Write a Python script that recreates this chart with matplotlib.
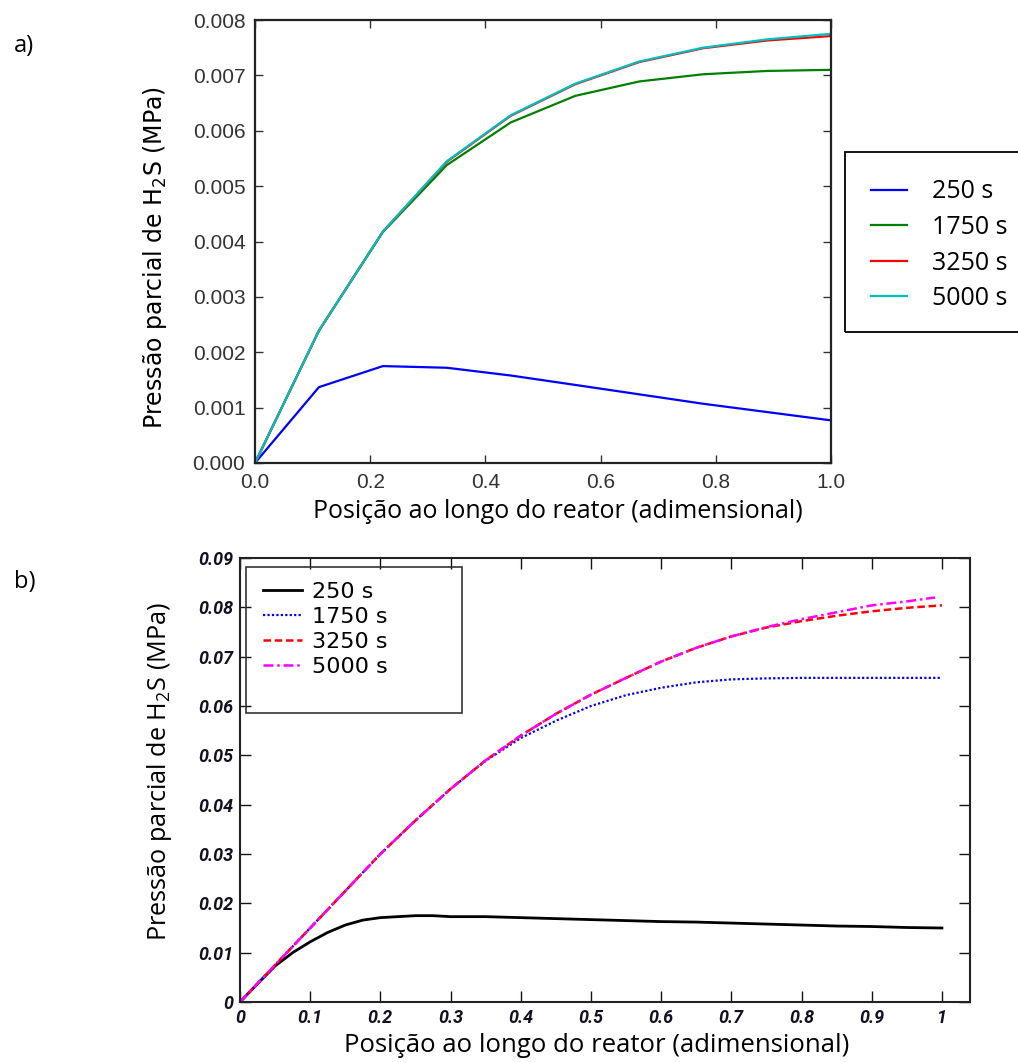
import matplotlib
matplotlib.use("Agg")
import matplotlib.pyplot as plt
from matplotlib.patches import Rectangle

# ---------------- data: panel a ----------------
x_a = [0.0, 0.111, 0.222, 0.333, 0.444, 0.556, 0.667, 0.778, 0.889, 1.0]
a_250 = [0, 0.00137, 0.00175, 0.00172, 0.00158, 0.00141, 0.00124, 0.00107, 0.00092, 0.00077]
a_1750 = [0, 0.00239, 0.00417, 0.00538, 0.00615, 0.00663, 0.00689, 0.00702, 0.00708, 0.00710]
a_3250 = [0, 0.00239, 0.00418, 0.00544, 0.00627, 0.00684, 0.00724, 0.00749, 0.00763, 0.00771]
a_5000 = [0, 0.00239, 0.00418, 0.00545, 0.00628, 0.00685, 0.00725, 0.00750, 0.00765, 0.00775]
labels = ["250 s", "1750 s", "3250 s", "5000 s"]
a_xticks = [0.0, 0.2, 0.4, 0.6, 0.8, 1.0]
a_yticks = [0.000, 0.001, 0.002, 0.003, 0.004, 0.005, 0.006, 0.007, 0.008]

# ---------------- data: panel b ----------------
x_b250 = [0, 0.025, 0.05, 0.075, 0.1, 0.125, 0.15, 0.175, 0.2, 0.225, 0.25, 0.275, 0.3,
          0.35, 0.4, 0.45, 0.5, 0.55, 0.6, 0.65, 0.7, 0.75, 0.8, 0.85, 0.9, 0.95, 1.0]
b_250 = [0, 0.0037, 0.0073, 0.0100, 0.0122, 0.0141, 0.0156, 0.0166, 0.0171, 0.0173, 0.0175,
         0.0175, 0.0173, 0.0173, 0.0171, 0.0169, 0.0167, 0.0165, 0.0163, 0.0162, 0.0160,
         0.0158, 0.0156, 0.0154, 0.0153, 0.0151, 0.0150]
x_b = [0, 0.05, 0.1, 0.15, 0.2, 0.25, 0.3, 0.35, 0.4, 0.45, 0.5, 0.55, 0.6, 0.65, 0.7,
       0.75, 0.8, 0.85, 0.9, 0.95, 1.0]
b_1750 = [0, 0.0075, 0.0150, 0.0225, 0.0300, 0.0368, 0.0432, 0.0489, 0.0535, 0.0570, 0.0600,
          0.0622, 0.0637, 0.0648, 0.0654, 0.0656, 0.0657, 0.0657, 0.0657, 0.0657, 0.0657]
b_3250 = [0, 0.0075, 0.0150, 0.0225, 0.0300, 0.0368, 0.0432, 0.0490, 0.0540, 0.0584, 0.0623,
          0.0657, 0.0690, 0.0718, 0.0741, 0.0759, 0.0772, 0.0783, 0.0792, 0.0799, 0.0804]
x_b5000 = [0, 0.05, 0.1, 0.15, 0.2, 0.25, 0.3, 0.35, 0.4, 0.45, 0.5, 0.55, 0.6, 0.65, 0.7,
           0.75, 0.8, 0.85, 0.9, 0.95, 0.99]
b_5000 = [0, 0.0075, 0.0150, 0.0225, 0.0300, 0.0368, 0.0432, 0.0490, 0.0540, 0.0584, 0.0623,
          0.0657, 0.0690, 0.0718, 0.0741, 0.0760, 0.0776, 0.0790, 0.0804, 0.0812, 0.0820]
b_xticks = [0, 0.1, 0.2, 0.3, 0.4, 0.5, 0.6, 0.7, 0.8, 0.9, 1.0]
b_xticklabels = ["0", "0.1", "0.2", "0.3", "0.4", "0.5", "0.6", "0.7", "0.8", "0.9", "1"]
b_yticks = [0, 0.01, 0.02, 0.03, 0.04, 0.05, 0.06, 0.07, 0.08, 0.09]
b_yticklabels = ["0", "0.01", "0.02", "0.03", "0.04", "0.05", "0.06", "0.07", "0.08", "0.09"]

W, H = 1018, 1062
fig = plt.figure(figsize=(W / 100, H / 100), dpi=100)

def fx(px):
    return px / W

def fy(py):
    return 1 - py / H

narrow = ["Liberation Sans", "DejaVu Sans"]
boldit = ["Roboto", "Liberation Sans", "DejaVu Sans"]
calib = ["Open Sans", "DejaVu Sans"]
ylab_txt = "Pressão parcial de H$_\\mathregular{2}$S (MPa)"
xlab_txt = "Posição ao longo do reator (adimensional)"

# ---------------- panel a ----------------
axa = fig.add_axes([fx(255), fy(463), fx(831 - 255), (463 - 20) / H])
axa.plot(x_a, a_250, color="#0000ff", lw=1.6, label=labels[0])
axa.plot(x_a, a_1750, color="#008000", lw=1.6, label=labels[1])
axa.plot(x_a, a_3250, color="#ff0000", lw=1.6, label=labels[2])
axa.plot(x_a, a_5000, color="#00bfbf", lw=1.6, label=labels[3])
axa.set_xlim(0, 1.0)
axa.set_ylim(0, 0.008)
axa.set_xticks(a_xticks)
axa.set_xticklabels(["%.1f" % v for v in a_xticks])
axa.set_yticks(a_yticks)
axa.set_yticklabels(["%.3f" % v for v in a_yticks])
axa.tick_params(direction="in", length=6, width=1, top=True, right=True,
                labelsize=15, colors="#333333", pad=7)
for lab in axa.get_xticklabels() + axa.get_yticklabels():
    lab.set_family(narrow)
for s in axa.spines.values():
    s.set_linewidth(1.6)
    s.set_color("#222222")
fig.text(fx(155), fy(257), ylab_txt, rotation=90, ha="center", va="center",
         fontsize=17, family="DejaVu Sans")
fig.text(fx(558), fy(512), xlab_txt, ha="center", va="center", fontsize=18, family=calib)

# legend a (outside, partly cut off)
handles_a = axa.get_lines()
leg_a = fig.legend(handles_a, labels, loc="upper left",
                   bbox_to_anchor=(fx(858), fy(167)), frameon=False,
                   prop={"family": calib, "size": 18}, handlelength=1.45,
                   handletextpad=1.0, labelspacing=0.42, borderpad=0)
fig.patches.append(Rectangle((fx(845), fy(332)), fx(1040 - 845), (332 - 152) / H,
                             transform=fig.transFigure, fill=False, edgecolor="black",
                             lw=1.3, figure=fig))

# ---------------- panel b ----------------
axb = fig.add_axes([fx(240), fy(1002), fx(970 - 240), (1002 - 558) / H])
lb1, = axb.plot(x_b250, b_250, color="black", lw=2.0, label=labels[0])
lb2, = axb.plot(x_b, b_1750, color="#0000ff", lw=1.6, linestyle=(0, (1, 1)), label=labels[1])
lb3, = axb.plot(x_b, b_3250, color="#ff0000", lw=1.8, linestyle=(0, (3, 1.5)), label=labels[2])
lb4, = axb.plot(x_b5000, b_5000, color="#ff00ff", lw=1.8, linestyle=(0, (4, 1.5, 1, 1.5)),
                label=labels[3])
axb.set_xlim(0, 1.04)
axb.set_ylim(0, 0.09)
axb.set_xticks(b_xticks)
axb.set_xticklabels(b_xticklabels)
axb.set_yticks(b_yticks)
axb.set_yticklabels(b_yticklabels)
axb.tick_params(direction="in", length=8, width=1, top=True, right=True,
                labelsize=13, colors="#111122", pad=5)
for lab in axb.get_xticklabels() + axb.get_yticklabels():
    lab.set_family(boldit)
    lab.set_style("italic")
    lab.set_weight("bold")
for s in axb.spines.values():
    s.set_linewidth(1.5)
    s.set_color("#222222")
fig.text(fx(160), fy(772), ylab_txt, rotation=90, ha="center", va="center",
         fontsize=18.2, family=calib)
fig.text(fx(597), fy(1046), xlab_txt, ha="center", va="center", fontsize=18.5, family=calib)

leg_b = fig.legend([lb1, lb2, lb3, lb4], labels, loc="upper left",
                   bbox_to_anchor=(fx(252), fy(571)), frameon=False,
                   prop={"family": "DejaVu Sans", "size": 16}, handlelength=1.75,
                   handletextpad=0.45, labelspacing=0.22, borderpad=0)
fig.patches.append(Rectangle((fx(246), fy(713)), fx(462 - 246), (713 - 567) / H,
                             transform=fig.transFigure, fill=False, edgecolor="#333333",
                             lw=1.2, figure=fig))

# panel letters
fig.text(fx(14), fy(46), "a)", ha="left", va="center", fontsize=17, family=calib)
fig.text(fx(14), fy(582), "b)", ha="left", va="center", fontsize=17, family=calib)

fig.savefig("out.png", dpi=100)
